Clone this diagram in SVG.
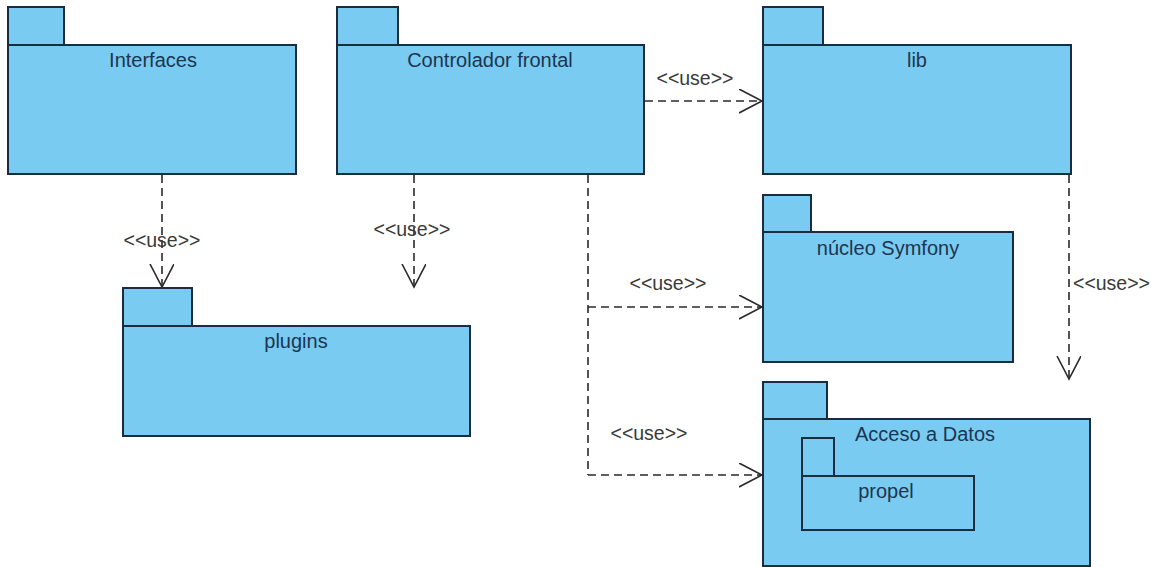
<svg xmlns="http://www.w3.org/2000/svg" width="1151" height="567" viewBox="0 0 1151 567">
  <style>
    .pkg { fill: #79cbf1; stroke: #1b2c3e; stroke-width: 2; }
    .name { font-family: "Liberation Sans", Arial, sans-serif; font-size: 20px; fill: #1d3550; text-anchor: middle; }
    .dep { fill: none; stroke: #2a2a2a; stroke-width: 1.6; stroke-dasharray: 8 5; }
    .stereo { font-family: "Liberation Sans", Arial, sans-serif; font-size: 19.5px; fill: #3a3a3a; text-anchor: middle; }
  </style>
  <defs>
    <marker id="open" markerUnits="userSpaceOnUse" markerWidth="30" markerHeight="30" refX="23" refY="12" orient="auto">
      <path d="M0,0 L23,12 L0,24" fill="none" stroke="#2a2a2a" stroke-width="1.6"/>
    </marker>
  </defs>
  <rect width="1151" height="567" fill="#ffffff"/>

  <g id="interfaces">
    <rect class="pkg" x="8" y="7" width="56" height="38"/>
    <rect class="pkg" x="8" y="45" width="288" height="129"/>
    <text class="name" x="153" y="67">Interfaces</text>
  </g>

  <g id="controlador-frontal">
    <rect class="pkg" x="337" y="7" width="61" height="38"/>
    <rect class="pkg" x="337" y="45" width="307" height="129"/>
    <text class="name" x="490" y="67">Controlador frontal</text>
  </g>

  <g id="lib">
    <rect class="pkg" x="763" y="7" width="60" height="38"/>
    <rect class="pkg" x="763" y="45" width="308" height="129"/>
    <text class="name" x="917" y="67">lib</text>
  </g>

  <g id="plugins">
    <rect class="pkg" x="123" y="288" width="69" height="38"/>
    <rect class="pkg" x="123" y="326" width="347" height="110"/>
    <text class="name" x="296" y="348">plugins</text>
  </g>

  <g id="nucleo-symfony">
    <rect class="pkg" x="763" y="195" width="48" height="37"/>
    <rect class="pkg" x="763" y="232" width="250" height="130"/>
    <text class="name" x="888" y="255">núcleo Symfony</text>
  </g>

  <g id="acceso-a-datos">
    <rect class="pkg" x="763" y="382" width="64" height="37"/>
    <rect class="pkg" x="763" y="419" width="327" height="147"/>
    <text class="name" x="925" y="441">Acceso a Datos</text>
    <g id="propel">
      <rect class="pkg" x="802" y="438" width="32" height="38"/>
      <rect class="pkg" x="802" y="476" width="172" height="54"/>
      <text class="name" x="886" y="498">propel</text>
    </g>
  </g>

  <g id="connectors">
    <!-- Controlador frontal -> lib -->
    <line class="dep" x1="645" y1="101" x2="762" y2="101" marker-end="url(#open)"/>
    <text class="stereo" x="695" y="85">&lt;&lt;use&gt;&gt;</text>

    <!-- Interfaces -> plugins -->
    <line class="dep" x1="162" y1="175" x2="162" y2="287" marker-end="url(#open)"/>
    <text class="stereo" x="162" y="247">&lt;&lt;use&gt;&gt;</text>

    <!-- Controlador frontal, downward dependency -->
    <line class="dep" x1="414" y1="175" x2="414" y2="287" marker-end="url(#open)"/>
    <text class="stereo" x="412" y="236">&lt;&lt;use&gt;&gt;</text>

    <!-- Controlador frontal -> núcleo Symfony / Acceso a Datos -->
    <line class="dep" x1="588" y1="175" x2="588" y2="475"/>
    <line class="dep" x1="588" y1="307" x2="762" y2="307" marker-end="url(#open)"/>
    <text class="stereo" x="668" y="290">&lt;&lt;use&gt;&gt;</text>
    <line class="dep" x1="588" y1="475" x2="762" y2="475" marker-end="url(#open)"/>
    <text class="stereo" x="649" y="440">&lt;&lt;use&gt;&gt;</text>

    <!-- lib -> Acceso a Datos -->
    <line class="dep" x1="1069" y1="175" x2="1069" y2="379" marker-end="url(#open)"/>
    <text class="stereo" x="1073" y="290" style="text-anchor:start">&lt;&lt;use&gt;&gt;</text>
  </g>
</svg>
